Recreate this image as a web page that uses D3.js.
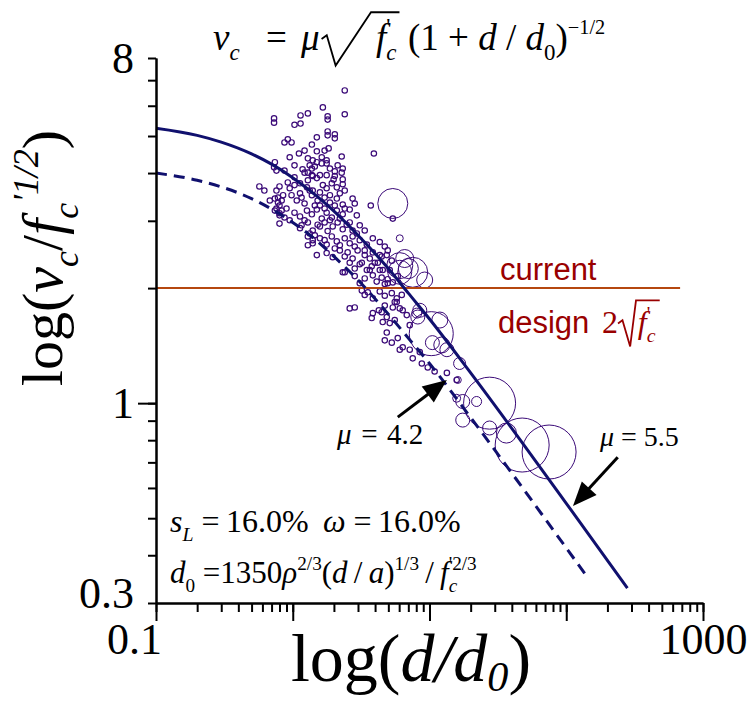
<!DOCTYPE html>
<html>
<head>
<meta charset="utf-8">
<script src="https://cdn.jsdelivr.net/npm/d3@7"></script>
<style>
  body { margin: 0; background: #fff; }
</style>
</head>
<body>
<div class="canvas"></div>
<script>
// tick values
const xTicksMajor = [0.1, 1, 10, 100, 1000];
const xTickLabels = [0.1, 1000];
const yTicksMajor = [1];
const yTickLabels = [0.3, 1, 8];

// fitted curves (mu = 5.5 solid, mu = 4.2 dashed)
const solidD = [0.1, 0.2, 0.3, 0.5, 0.7, 1, 1.5, 2, 3, 5, 7, 10, 20, 50, 100, 280];
const solidV = [5.24, 5.02, 4.82, 4.49, 4.22, 3.89, 3.48, 3.18, 2.75, 2.25, 1.94, 1.66, 1.20, 0.77, 0.547, 0.328];
const dashD = [0.1, 0.2, 0.3, 0.5, 0.7, 1, 1.5, 2, 3, 5, 7, 10, 20, 50, 100, 145];
const dashV = [4.00, 3.83, 3.68, 3.43, 3.22, 2.97, 2.66, 2.42, 2.10, 1.71, 1.48, 1.27, 0.917, 0.588, 0.418, 0.348];

// current design level 2*sqrt(f'c)
const designV = 2;
const designD = [0.1, 680];

// small specimens [d/d0, vc/sqrt(f'c)]
const smallPts = [
  [2.40,6.58],[2.40,5.70],[1.66,5.94],[1.29,5.73],[1.14,5.66],[0.73,5.56],[0.73,5.42],[1.03,5.35],[1.14,5.39],[1.80,5.63],
  [1.80,5.52],[1.80,5.14],[1.80,5.02],[2.03,5.05],[2.03,4.93],[1.50,4.96],[0.92,4.90],[0.87,4.81],[0.98,4.81],[3.92,4.50],
  [1.83,4.64],[1.50,4.56],[1.11,4.50],[0.95,4.40],[2.28,4.42],[0.74,4.27],[0.73,4.14],[0.76,4.06],[0.57,3.69],[1.03,3.90],
  [0.92,3.78],[2.03,4.04],[1.77,4.24],[1.63,4.40],[1.18,4.09],[2.32,3.85],[1.99,3.85],[3.72,3.29],[5.39,3.04],
  [1.29,4.37],[1.40,4.32],[1.33,4.19],[1.50,4.27],[1.38,4.11],[1.45,4.16],[1.63,4.24],[1.77,4.32],
  [1.22,4.01],[1.38,3.95],[1.50,3.88],[1.29,3.83],[1.40,3.93],[1.77,3.95],[2.03,3.93],[2.28,4.01],[2.32,4.11],
  [0.80,3.69],[0.76,3.60],[1.03,3.72],[0.95,3.65],[1.13,3.76],[1.27,3.67],[1.40,3.60],[1.66,3.72],[1.77,3.65],[1.93,3.76],
  [2.10,3.67],[2.32,3.74],[2.40,3.60],
  [0.78,3.45],[0.83,3.39],[0.98,3.50],[1.07,3.39],[1.16,3.45],[1.22,3.33],[1.38,3.50],[1.52,3.39],[1.58,3.29],[1.71,3.45],
  [1.87,3.35],[2.10,3.43],[2.32,3.31],[2.74,3.43],[2.84,3.33],
  [0.74,3.19],[0.80,3.14],[0.90,3.23],[1.03,3.15],[1.13,3.08],[1.27,3.19],[1.38,3.12],[1.50,3.21],[1.63,3.04],[1.77,3.15],
  [1.93,3.06],[2.10,3.19],[2.32,3.12],[2.61,3.21],[2.94,3.10],
  [0.80,2.95],[1.16,2.92],[1.29,2.97],[1.40,2.83],[1.58,2.90],[1.71,2.97],[1.80,2.82],[1.96,2.90],[2.13,2.97],[2.32,2.85],
  [2.48,2.93],[2.74,2.83],[3.09,2.92],[3.36,2.83],
  [1.29,2.73],[1.40,2.67],[1.58,2.70],[1.77,2.60],[1.93,2.73],[2.10,2.65],[2.21,2.59],[2.40,2.70],[2.61,2.62],[2.74,2.73],
  [3.09,2.67],[3.48,2.60],[3.85,2.70],[4.33,2.64],[4.71,2.57],
  [1.50,2.44],[1.77,2.47],[1.96,2.41],[2.21,2.51],[2.40,2.42],[2.52,2.48],[2.74,2.39],[2.98,2.51],[3.36,2.44],[3.66,2.39],
  [3.85,2.48],[4.47,2.42],[4.95,2.51],
  [2.32,2.20],[2.61,2.33],[2.84,2.25],[3.09,2.31],[3.48,2.23],[3.78,2.28],[3.98,2.33],[4.33,2.23],
  [2.84,2.15],[3.09,2.06],[3.36,2.12],[3.85,2.16],[4.11,2.08],[4.47,2.13],[4.71,2.05],[4.95,2.11],[5.39,2.07],[5.86,2.15],
  [3.20,1.97],[3.36,1.92],[3.54,1.95],[3.85,1.88],[4.33,1.96],[4.71,1.91],[5.30,1.94],[5.76,1.88],[6.27,1.92],
  [2.61,1.77],[2.84,1.78],[3.85,1.72],[4.26,1.75],[4.71,1.80],[5.39,1.78],[5.76,1.84],[6.37,1.75],
  [3.78,1.67],[4.55,1.63],[6.82,1.70],[7.17,1.60],
  [4.33,2.44],[4.87,2.44],[4.55,2.23],[4.95,2.06],[5.57,1.84],[4.47,1.73],[4.87,1.68],[5.57,1.65],[5.12,1.62],[6.06,1.77],
  [5.86,1.48],[4.71,1.46],[5.30,1.44],[4.87,1.53],[6.37,1.40],[6.06,1.38],[7.17,1.38],[8.49,1.36],[7.54,1.31],[8.79,1.27],
  [9.71,1.24],[10.9,1.21],[13.4,1.20],[15.8,1.15],
  [0.74,3.43],[0.78,3.35],[0.80,3.29],[0.76,3.23],[0.83,3.19],[0.80,3.10],[0.87,3.06],[0.95,3.01],[1.13,2.87],[1.33,2.78],
  [1.29,2.59],[1.40,2.62],[2.40,2.20],
  [1.13,3.54],[1.33,3.60],[1.58,3.56],[1.87,3.50],[2.21,3.54],[1.45,3.29],[1.71,3.23],[2.03,3.29],[2.40,3.23],[1.22,3.01],
  [1.52,2.93],[1.87,3.01],[2.21,3.04],[2.61,2.97],[2.94,2.78],[1.45,2.75],[1.71,2.67],[2.03,2.54],[2.84,2.57],[3.36,2.51],
  [3.20,2.33],[3.66,2.23],[4.19,2.33],[5.12,2.23],[5.30,2.36],[1.29,4.01],[1.58,3.95],[1.87,4.11],[2.13,4.19],[1.71,4.58],
  [1.38,4.75],[1.22,4.58],[1.03,4.19],[0.87,4.06],[0.85,3.50],[0.68,3.39],[0.62,3.60]
];

// large specimens [d/d0, vc/sqrt(f'c), relative size]
const bigPts = [
  [5.39,3.33,15],[6.06,2.29,13],[7.54,2.20,15],[7.0,2.25,10],[6.06,2.20,12],[8.21,1.68,7],[11.9,1.65,8],[10.3,1.52,22],
  [10.5,1.44,7],[12.3,1.42,8],[13.4,1.38,7],[16.6,1.27,6],[16.1,1.15,3.5],[27.5,1.00,26],[22.1,1.01,5],[17.5,1.01,7],
  [17.5,0.903,7],[27.5,0.861,7],[36.5,0.835,10],[47.6,0.777,27],[74.9,0.745,27],[15.8,1.03,4],[6.06,2.70,3.5],
  [9.22,2.10,8],[8.49,1.75,7],[8.07,1.72,5],[6.59,2.39,9]
];

// arrows [tail, tip] in data units
const arrow42 = [[5.86, 0.919], [13.4, 1.15]];
const arrow55 = [[238, 0.722], [112, 0.538]];

const serif = '"Liberation Serif", "Times New Roman", serif';
const sans = '"Liberation Sans", Arial, sans-serif';

const svg = d3.select('.canvas')
  .append('svg')
    .attr('width', 750)
    .attr('height', 703);

const margin = {top: 58, right: 47, bottom: 100, left: 156};
const graphWidth = 750 - margin.left - margin.right;
const graphHeight = 703 - margin.top - margin.bottom;

const graph = svg.append('g')
  .attr('transform', `translate(${margin.left}, ${margin.top})`);

const x = d3.scaleLog().domain([0.1, 1000]).range([0, graphWidth]);
const y = d3.scaleLog().domain([0.3, 8]).range([graphHeight, 0]);
const r = d3.scaleLinear().domain([0, 27]).range([0, 27]);

const ink = '#3b0a78';
const navy = '#10106e';
const red = '#990000';

// scatter
graph.append('g').selectAll('circle')
  .data(smallPts)
  .enter().append('circle')
    .attr('cx', d => x(d[0]))
    .attr('cy', d => y(d[1]))
    .attr('r', 2.7)
    .attr('fill', 'none')
    .attr('stroke', ink)
    .attr('stroke-width', 1.2);

graph.append('g').selectAll('circle')
  .data(bigPts)
  .enter().append('circle')
    .attr('cx', d => x(d[0]))
    .attr('cy', d => y(d[1]))
    .attr('r', d => r(d[2]))
    .attr('fill', 'none')
    .attr('stroke', ink)
    .attr('stroke-width', 1);

// design line
graph.append('line')
  .attr('x1', x(designD[0])).attr('x2', x(designD[1]))
  .attr('y1', y(designV)).attr('y2', y(designV))
  .attr('stroke', '#b5470f')
  .attr('stroke-width', 2);

// curves
const line = d3.line()
  .x(d => x(d[0]))
  .y(d => y(d[1]))
  .curve(d3.curveMonotoneX);

graph.append('path')
  .attr('d', line(d3.zip(solidD, solidV)))
  .attr('fill', 'none')
  .attr('stroke', navy)
  .attr('stroke-width', 3);

graph.append('path')
  .attr('d', line(d3.zip(dashD, dashV)))
  .attr('fill', 'none')
  .attr('stroke', navy)
  .attr('stroke-width', 3)
  .attr('stroke-dasharray', '11,7');

// axes: minor ticks, major ticks, labels
const xAxisGroup = graph.append('g').attr('transform', `translate(0, ${graphHeight})`);
const yAxisGroup = graph.append('g');

xAxisGroup.append('g').call(d3.axisBottom(x).tickValues(x.ticks()).tickSize(9).tickSizeOuter(0).tickFormat(''));
xAxisGroup.append('g').call(d3.axisBottom(x).tickValues(xTicksMajor).tickSize(18).tickSizeOuter(0).tickFormat(''));
const xLab = xAxisGroup.append('g').call(d3.axisBottom(x).tickValues(xTickLabels).tickSize(0).tickPadding(20).tickFormat(d3.format('~g')));

yAxisGroup.append('g').call(d3.axisLeft(y).tickValues(y.ticks()).tickSize(8).tickSizeOuter(0).tickFormat(''));
yAxisGroup.append('g').call(d3.axisLeft(y).tickValues(yTicksMajor).tickSize(18).tickSizeOuter(0).tickFormat(''));
const yLab = yAxisGroup.append('g').call(d3.axisLeft(y).tickValues(yTickLabels).tickSize(0).tickPadding(22).tickFormat(d3.format('~g')));

[xAxisGroup, yAxisGroup].forEach(g => {
  g.selectAll('line').attr('stroke', '#000').attr('stroke-width', 2);
  g.selectAll('path.domain').attr('stroke', '#000').attr('stroke-width', 2);
  g.selectAll('g').attr('font-family', serif).attr('font-size', 44);
  g.selectAll('text').attr('fill', '#000');
});
xLab.select('.domain').remove();
yLab.select('.domain').remove();
xLab.selectAll('.tick text').filter(d => d === 0.1).attr('dx', -22);
yLab.selectAll('.tick text').filter(d => d === 0.3).attr('dy', '0.1em');

// math-ish text helper: parts are {t, it, sub, sup, stack, dx, x}
function mathText(parent, px, py, size, parts, opts = {}) {
  const t = parent.append('text')
    .attr('x', px).attr('y', py)
    .attr('font-family', serif)
    .attr('font-size', size)
    .attr('fill', opts.fill || '#000');
  if (opts.anchor) t.attr('text-anchor', opts.anchor);
  if (opts.transform) t.attr('transform', opts.transform);
  const subShift = opts.subShift != null ? opts.subShift : 0.28;
  let shift = 0, prev = null;
  const nodes = [];
  parts.forEach(p => {
    const target = p.sub ? size * subShift : p.sup ? -size * 0.42 : 0;
    const fs = (p.sub || p.sup) ? size * (p.small || 0.62) : size;
    const s = t.append('tspan')
      .text(p.t)
      .attr('font-size', fs)
      .attr('font-style', p.it ? 'italic' : 'normal')
      .attr('dy', target - shift);
    if (p.x != null) s.attr('x', p.x);
    let dx = p.dx ? p.dx * size : 0;
    if (p.stack && prev) dx -= prev.node().getComputedTextLength();
    if (dx) s.attr('dx', dx);
    shift = target;
    prev = s;
    nodes.push(s.node());
  });
  return nodes;
}

// radical sign: hook at x0, top of the stroke at xTop, bar up to x1
function radical(parent, x0, xTop, x1, base, size, color) {
  const p = d3.path();
  p.moveTo(x0, base - 0.30 * size);
  p.lineTo(x0 + 0.14 * size, base - 0.40 * size);
  p.lineTo(x0 + 0.38 * size, base + 0.42 * size);
  p.lineTo(xTop, base - 1.02 * size);
  p.lineTo(x1, base - 1.02 * size);
  parent.append('path')
    .attr('d', p.toString())
    .attr('fill', 'none')
    .attr('stroke', color)
    .attr('stroke-width', 1.8)
    .attr('stroke-linejoin', 'miter');
}

// title formula
const tSize = 37;
const tn = mathText(svg, 213, 50, tSize, [
  {t: 'v', it: 1}, {t: 'c', it: 1, sub: 1}, {t: '=', x: 266}, {t: 'μ', it: 1, x: 301},
  {t: 'f', it: 1, x: 376}, {t: "'", sup: 1}, {t: 'c', it: 1, sub: 1, stack: 1},
  {t: '(', x: 408}, {t: '1 + '}, {t: 'd', it: 1}, {t: ' / '},
  {t: 'd', it: 1}, {t: '0', sub: 1}, {t: ')'}, {t: '−1/2', sup: 1, small: 0.55}
]);
{
  const mu = tn[3].getBBox();
  const c = tn[6].getBBox();
  radical(svg, mu.x + mu.width + 2, 371, c.x + c.width + 3, 50, tSize, '#000');
}

// y title
mathText(svg, 62, 258, 58, [
  {t: 'log('}, {t: 'v', it: 1}, {t: 'c', it: 1, sub: 1}, {t: '/'}, {t: 'f', it: 1},
  {t: 'c', it: 1, sub: 1}, {t: "'1/2", it: 1, sup: 1}, {t: ')'}
], {anchor: 'middle', transform: 'rotate(-90, 62, 258)'});

// x title
mathText(svg, 411, 681, 68, [
  {t: 'log('}, {t: 'd/d', it: 1}, {t: '0', it: 1, sub: 1}, {t: ')'}
], {anchor: 'middle', subShift: 0.15});

// current design label
svg.append('text').attr('x', 500).attr('y', 280)
  .attr('font-family', sans)
  .attr('font-size', 31).attr('fill', red).text('current');
svg.append('text').attr('x', 498).attr('y', 333)
  .attr('font-family', sans)
  .attr('font-size', 31).attr('fill', red).text('design');
const dn = mathText(svg, 602, 333, 32, [
  {t: '2'}, {t: 'f', it: 1, dx: 0.62}, {t: "'", sup: 1}, {t: 'c', it: 1, sub: 1, stack: 1}
], {fill: red});
{
  const two = dn[0].getBBox();
  const c = dn[3].getBBox();
  radical(svg, two.x + two.width, two.x + two.width + 18, c.x + c.width + 4, 333, 32, red);
}

// mu labels
mathText(svg, 337, 444, 29, [{t: 'μ', it: 1}, {t: ' = ', dx: 0.08}, {t: '4.2', dx: 0.08}]);
mathText(svg, 600, 446, 28, [{t: 'μ', it: 1}, {t: ' = '}, {t: '5.5'}]);

// arrows
function arrow(a) {
  const x0 = x(a[0][0]) + margin.left, y0 = y(a[0][1]) + margin.top;
  const x1 = x(a[1][0]) + margin.left, y1 = y(a[1][1]) + margin.top;
  const len = Math.hypot(x1 - x0, y1 - y0);
  const ux = (x1 - x0) / len, uy = (y1 - y0) / len;
  const hl = 24, hw = 10;
  const bx = x1 - ux * hl, by = y1 - uy * hl;
  svg.append('line')
    .attr('x1', x0).attr('y1', y0).attr('x2', bx + ux * 2).attr('y2', by + uy * 2)
    .attr('stroke', '#000').attr('stroke-width', 3);
  svg.append('path')
    .attr('d', `M${x1},${y1}L${bx - uy * hw},${by + ux * hw}L${bx + uy * hw},${by - ux * hw}Z`)
    .attr('fill', '#000');
}
arrow(arrow42);
arrow(arrow55);

// parameter notes
mathText(svg, 170, 532, 32, [
  {t: 's', it: 1}, {t: 'L', it: 1, sub: 1}, {t: ' =\u200916.0%'}, {t: 'ω', it: 1, dx: 0.45}, {t: ' =\u200916.0%'}
]);
mathText(svg, 170, 583, 31, [
  {t: 'd', it: 1}, {t: '0', sub: 1}, {t: ' =1350'}, {t: 'ρ', it: 1}, {t: '2/3', sup: 1},
  {t: '('}, {t: 'd', it: 1}, {t: '\u2009/\u2009'}, {t: 'a', it: 1}, {t: ')'}, {t: '1/3', sup: 1},
  {t: '\u2009/\u2009'}, {t: 'f', it: 1}, {t: 'c', it: 1, sub: 1}, {t: "'2/3", sup: 1, stack: 1}
]);
</script>
</body>
</html>
